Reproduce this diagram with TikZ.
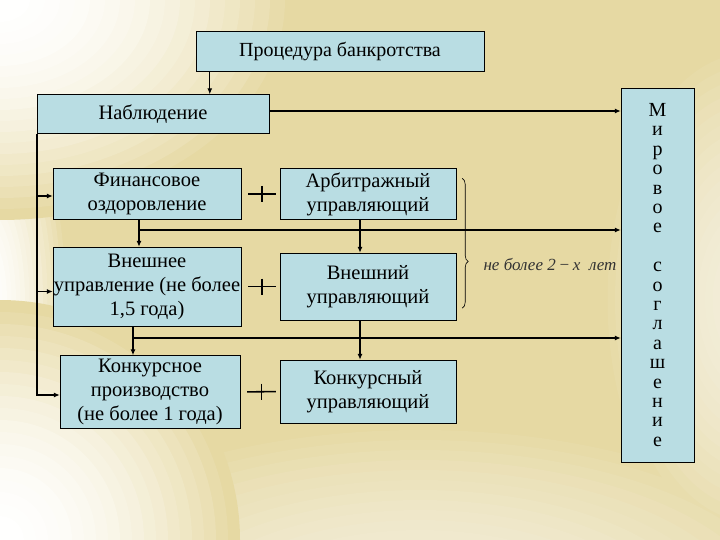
\documentclass[tikz,border=0pt]{standalone}
\usepackage{fontspec}
\setmainfont{Liberation Serif}
\usetikzlibrary{arrows.meta,calc,decorations.pathreplacing}

\definecolor{boxblue}{RGB}{185,221,227}
\definecolor{bgyellow}{RGB}{230,217,163}
\definecolor{bgcream}{RGB}{244,240,224}

\begin{document}
\begin{tikzpicture}[x=1pt,y=-1pt,
    box/.style={draw, fill=boxblue, align=center, inner sep=0pt,
      font=\fontsize{20.5}{24}\selectfont},
    arr/.style={line width=1.4pt, -{Latex[length=6pt,width=5pt]}},
    bar/.style={line width=1.6pt}]
  % background
  \useasboundingbox (0,0) rectangle (720,540);
  \fill[bgyellow] (0,0) rectangle (720,540);
  \foreach \i in {20,...,1}{
    \pgfmathtruncatemacro\q{(100-\i*\i/4)*0.9}
    \fill[bgcream!\q!bgyellow] (420,620) ellipse ({22*\i} and {10*\i});
    \fill[bgcream!\q!bgyellow] (750,300) ellipse ({7.5*\i} and {13*\i});
  }
  \foreach \i in {20,...,1}{
    \pgfmathtruncatemacro\p{100-\i*\i/4}
    \fill[white!\p!bgyellow] (-20,300) ellipse ({4.5*\i} and {12*\i});
  }
  \foreach \i in {20,...,1}{
    \pgfmathtruncatemacro\p{100-\i*\i/4}
    \fill[white!\p!bgyellow] (0,540) ellipse ({12*\i} and {12*\i});
    \fill[white!\p!bgyellow] (0,0) ellipse ({15*\i} and {11*\i});
  }
  % boxes
  \node[box, minimum width=288pt, minimum height=40pt, font=\fontsize{20}{24}\selectfont] (proc) at (340,51.5) {Процедура банкротства};
  \node[box, minimum width=232pt, minimum height=39pt] (nab) at (153,114) {Наблюдение};
  \node[box, minimum width=73pt, minimum height=374pt,
    font=\fontsize{20}{19.4}\selectfont] (mir) at (657.5,275)
    {М\\и\\р\\о\\в\\о\\е\\\mbox{}\\с\\о\\г\\л\\а\\ш\\е\\н\\и\\е};
  \node[box, minimum width=188pt, minimum height=51pt] (fin) at (147,194) {Финансовое\\оздоровление};
  \node[box, minimum width=176pt, minimum height=51pt] (arb) at (368,194) {Арбитражный\\управляющий};
  \node[box, minimum width=188pt, minimum height=79pt] (ext) at (147,286.5) {Внешнее\\управление (не более\\1,5 года)};
  \node[box, minimum width=176pt, minimum height=67pt] (extm) at (368,286.5) {Внешний\\управляющий};
  \node[box, minimum width=180pt, minimum height=73pt] (kon) at (150,392) {Конкурсное\\производство\\(не более 1 года)};
  \node[box, minimum width=176pt, minimum height=63pt] (konm) at (368,391.5) {Конкурсный\\управляющий};
  % arrows
  \draw[arr, line width=1pt] ($(proc.south west)+(14,0)$) coordinate (p0) -- (p0 |- nab.north);
  \draw[arr, line width=2pt] ($(nab.east)+(0,-3)$) -- ($(nab.east -| mir.west)+(0,-3)$);
  \draw[arr] (nab.south west) |- ($(kon.west)+(0,3)$);
  \draw[arr] ($(nab.south west |- fin.west)+(0,2)$) -- ($(fin.west)+(0,2)$);
  \draw[arr] ($(nab.south west |- ext.west)+(0,5)$) -- ($(ext.west)+(0,5)$);
  \draw[arr] ($(fin.south)+(-8,0)$) coordinate (f0) -- (f0 |- ext.north);
  \draw[arr, line width=2pt] (f0 |- 0,230) -- (mir.west |- 0,230);
  \draw[arr] ($(arb.south)+(-8,0)$) coordinate (a0) -- (a0 |- extm.north);
  \draw[arr] ($(ext.south)+(-14,0)$) coordinate (e0) -- (e0 |- kon.north);
  \draw[arr, line width=2pt] (e0 |- 0,338) -- (mir.west |- 0,338);
  \draw[arr] ($(extm.south)+(-8,0)$) coordinate (x0) -- (x0 |- konm.north);
  % plus signs
  \foreach \a/\b in {fin/arb,ext/extm,kon/konm}{
    \draw[bar, shorten <=7pt, shorten >=4pt] (\a.east) -- (\b.west);
    \draw[bar] ($(\a.east)!0.54!(\b.west)+(0,-8)$) -- ++(0,16);
  }
  % brace
  \draw[decorate, decoration={brace, amplitude=6pt, aspect=0.64}, line width=0.6pt]
    ($(arb.north east)+(6,10)$) -- ($(extm.south east)+(6,-12)$);
  \node[anchor=west, font=\fontsize{17}{19}\itshape, text=black!80] (lim) at (480,264)
    {не более 2\,−\,х\ \ лет};
\end{tikzpicture}
\end{document}
